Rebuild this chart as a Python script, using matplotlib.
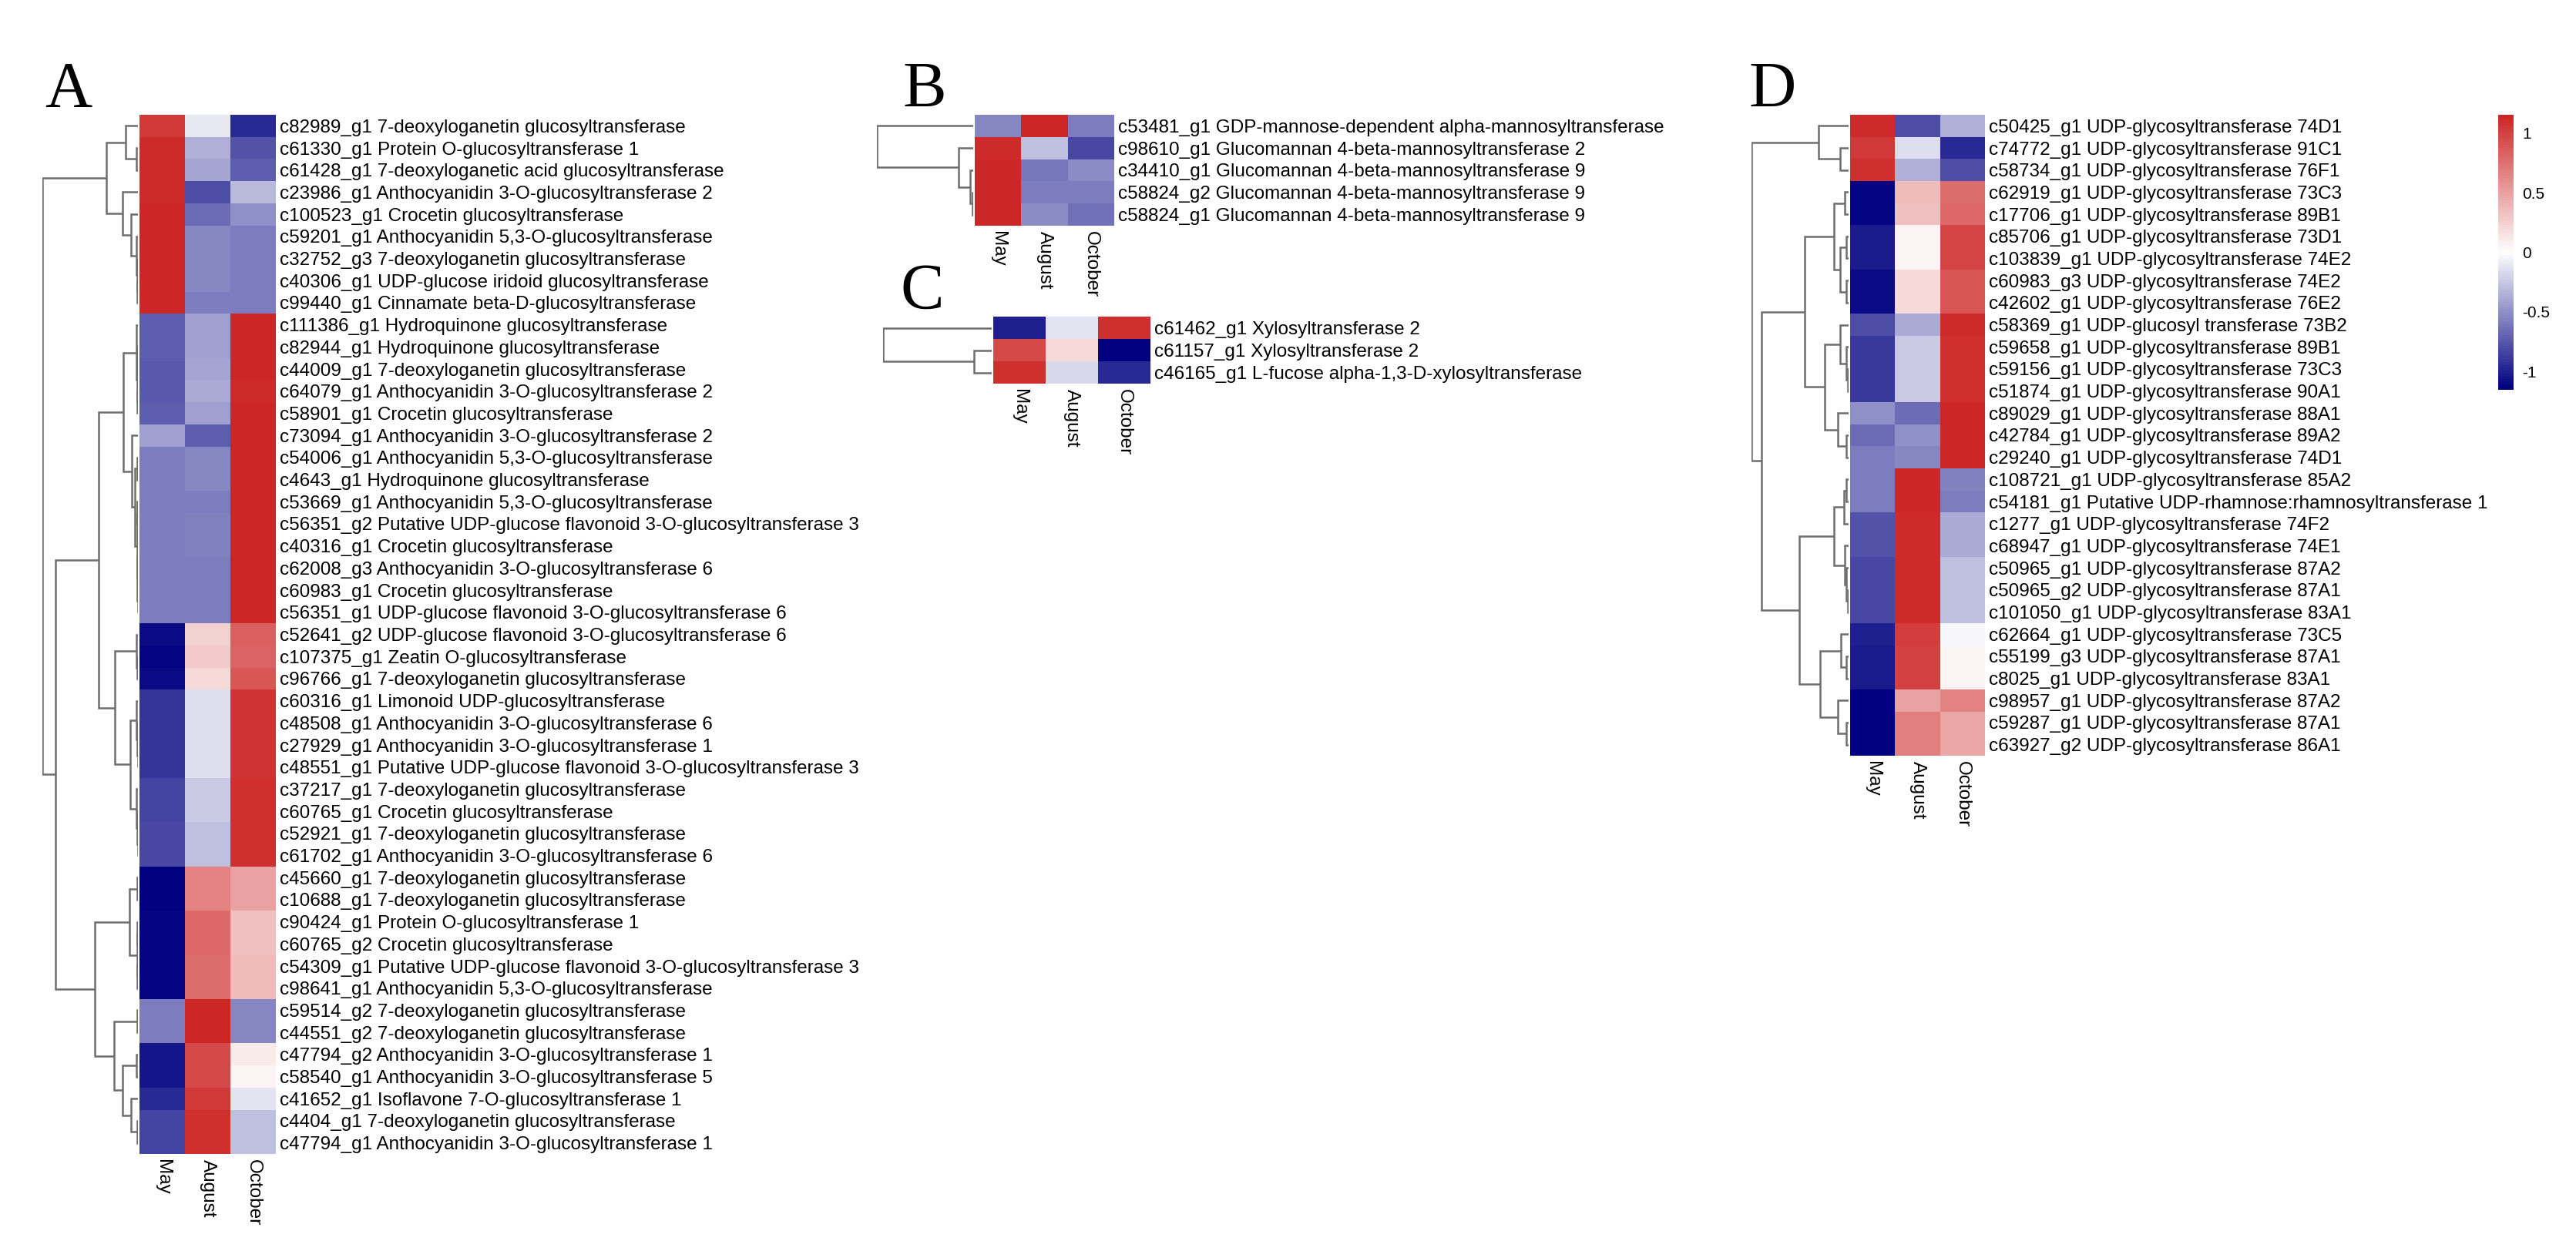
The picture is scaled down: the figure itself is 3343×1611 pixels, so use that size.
import matplotlib
matplotlib.use('Agg')
import matplotlib.pyplot as plt
from matplotlib.colors import LinearSegmentedColormap
import numpy as np

W, H = 3343, 1611

months = ['May', 'August', 'October']

a_genes = [
    'c82989_g1 7-deoxyloganetin glucosyltransferase',
    'c61330_g1 Protein O-glucosyltransferase 1',
    'c61428_g1 7-deoxyloganetic acid glucosyltransferase',
    'c23986_g1 Anthocyanidin 3-O-glucosyltransferase 2',
    'c100523_g1 Crocetin glucosyltransferase',
    'c59201_g1 Anthocyanidin 5,3-O-glucosyltransferase',
    'c32752_g3 7-deoxyloganetin glucosyltransferase',
    'c40306_g1 UDP-glucose iridoid glucosyltransferase',
    'c99440_g1 Cinnamate beta-D-glucosyltransferase',
    'c111386_g1 Hydroquinone glucosyltransferase',
    'c82944_g1 Hydroquinone glucosyltransferase',
    'c44009_g1 7-deoxyloganetin glucosyltransferase',
    'c64079_g1 Anthocyanidin 3-O-glucosyltransferase 2',
    'c58901_g1 Crocetin glucosyltransferase',
    'c73094_g1 Anthocyanidin 3-O-glucosyltransferase 2',
    'c54006_g1 Anthocyanidin 5,3-O-glucosyltransferase',
    'c4643_g1 Hydroquinone glucosyltransferase',
    'c53669_g1 Anthocyanidin 5,3-O-glucosyltransferase',
    'c56351_g2 Putative UDP-glucose flavonoid 3-O-glucosyltransferase 3',
    'c40316_g1 Crocetin glucosyltransferase',
    'c62008_g3 Anthocyanidin 3-O-glucosyltransferase 6',
    'c60983_g1 Crocetin glucosyltransferase',
    'c56351_g1 UDP-glucose flavonoid 3-O-glucosyltransferase 6',
    'c52641_g2 UDP-glucose flavonoid 3-O-glucosyltransferase 6',
    'c107375_g1 Zeatin O-glucosyltransferase',
    'c96766_g1 7-deoxyloganetin glucosyltransferase',
    'c60316_g1 Limonoid UDP-glucosyltransferase',
    'c48508_g1 Anthocyanidin 3-O-glucosyltransferase 6',
    'c27929_g1 Anthocyanidin 3-O-glucosyltransferase 1',
    'c48551_g1 Putative UDP-glucose flavonoid 3-O-glucosyltransferase 3',
    'c37217_g1 7-deoxyloganetin glucosyltransferase',
    'c60765_g1 Crocetin glucosyltransferase',
    'c52921_g1 7-deoxyloganetin glucosyltransferase',
    'c61702_g1 Anthocyanidin 3-O-glucosyltransferase 6',
    'c45660_g1 7-deoxyloganetin glucosyltransferase',
    'c10688_g1 7-deoxyloganetin glucosyltransferase',
    'c90424_g1 Protein O-glucosyltransferase 1',
    'c60765_g2 Crocetin glucosyltransferase',
    'c54309_g1 Putative UDP-glucose flavonoid 3-O-glucosyltransferase 3',
    'c98641_g1 Anthocyanidin 5,3-O-glucosyltransferase',
    'c59514_g2 7-deoxyloganetin glucosyltransferase',
    'c44551_g2 7-deoxyloganetin glucosyltransferase',
    'c47794_g2 Anthocyanidin 3-O-glucosyltransferase 1',
    'c58540_g1 Anthocyanidin 3-O-glucosyltransferase 5',
    'c41652_g1 Isoflavone 7-O-glucosyltransferase 1',
    'c4404_g1 7-deoxyloganetin glucosyltransferase',
    'c47794_g1 Anthocyanidin 3-O-glucosyltransferase 1',
]
a_values = [
    [1.05, -0.10, -0.95], [1.13, -0.35, -0.78], [1.13, -0.40, -0.73],
    [1.12, -0.80, -0.32], [1.15, -0.65, -0.50], [1.155, -0.55, -0.60],
    [1.155, -0.55, -0.60], [1.155, -0.55, -0.60], [1.155, -0.58, -0.58],
    [-0.72, -0.43, 1.15], [-0.72, -0.43, 1.15], [-0.74, -0.40, 1.14],
    [-0.76, -0.37, 1.13], [-0.72, -0.43, 1.15], [-0.42, -0.73, 1.15],
    [-0.60, -0.55, 1.155], [-0.60, -0.55, 1.155], [-0.58, -0.58, 1.155],
    [-0.60, -0.56, 1.155], [-0.60, -0.56, 1.155], [-0.58, -0.58, 1.155],
    [-0.58, -0.58, 1.155], [-0.58, -0.58, 1.155],
    [-1.10, 0.25, 0.85], [-1.12, 0.30, 0.82], [-1.10, 0.20, 0.90],
    [-0.92, -0.15, 1.07], [-0.92, -0.15, 1.07], [-0.92, -0.15, 1.07],
    [-0.92, -0.15, 1.07], [-0.85, -0.25, 1.10], [-0.85, -0.25, 1.10],
    [-0.82, -0.28, 1.10], [-0.82, -0.28, 1.10],
    [-1.155, 0.65, 0.50], [-1.155, 0.65, 0.50], [-1.13, 0.80, 0.33],
    [-1.13, 0.80, 0.33], [-1.13, 0.78, 0.35], [-1.13, 0.78, 0.35],
    [-0.60, 1.155, -0.55], [-0.60, 1.155, -0.55], [-1.05, 0.95, 0.10],
    [-1.05, 0.97, 0.06], [-0.97, 1.05, -0.12], [-0.85, 1.10, -0.28],
    [-0.85, 1.10, -0.28],
]
# trees: leaf = row index, node = (upper, lower, height relative to root)
a_tree = (
    ((0, (1, 2, 0.02), 0.13),
     (3, (4, (5, (6, (7, 8, 0.005), 0.01), 0.015), 0.07), 0.16), 0.33),
    ((((9, ((10, 11, 0.005), (12, 13, 0.005), 0.01), 0.02),
       (14, ((15, 16, 0.01), ((17, 18, 0.005),
                               ((19, 20, 0.003), (21, 22, 0.003), 0.006), 0.01), 0.03), 0.065), 0.15),
      ((23, (24, 25, 0.005), 0.02),
       ((26, (27, (28, 29, 0.003), 0.006), 0.015),
        (30, (31, (32, 33, 0.003), 0.006), 0.015), 0.08), 0.24), 0.41),
     (((34, 35, 0.005), ((36, 37, 0.005), (38, 39, 0.005), 0.01), 0.09),
      ((40, 41, 0.01), ((42, 43, 0.02), (44, (45, 46, 0.01), 0.07), 0.16), 0.25), 0.45), 0.86),
    1.0)

b_genes = [
    'c53481_g1 GDP-mannose-dependent alpha-mannosyltransferase',
    'c98610_g1 Glucomannan 4-beta-mannosyltransferase 2',
    'c34410_g1 Glucomannan 4-beta-mannosyltransferase 9',
    'c58824_g2 Glucomannan 4-beta-mannosyltransferase 9',
    'c58824_g1 Glucomannan 4-beta-mannosyltransferase 9',
]
b_values = [
    [-0.55, 1.155, -0.60], [1.12, -0.30, -0.82], [1.155, -0.62, -0.53],
    [1.155, -0.58, -0.58], [1.155, -0.53, -0.63],
]
b_tree = (0, (1, (2, (3, 4, 0.01), 0.03), 0.15), 1.0)

c_genes = [
    'c61462_g1 Xylosyltransferase 2',
    'c61157_g1 Xylosyltransferase 2',
    'c46165_g1 L-fucose alpha-1,3-D-xylosyltransferase',
]
c_values = [
    [-1.00, -0.12, 1.10], [0.95, 0.20, -1.15], [1.10, -0.17, -0.95],
]
c_tree = (0, (1, 2, 0.16), 1.0)

d_genes = [
    'c50425_g1 UDP-glycosyltransferase 74D1',
    'c74772_g1 UDP-glycosyltransferase 91C1',
    'c58734_g1 UDP-glycosyltransferase 76F1',
    'c62919_g1 UDP-glycosyltransferase 73C3',
    'c17706_g1 UDP-glycosyltransferase 89B1',
    'c85706_g1 UDP-glycosyltransferase 73D1',
    'c103839_g1 UDP-glycosyltransferase 74E2',
    'c60983_g3 UDP-glycosyltransferase 74E2',
    'c42602_g1 UDP-glycosyltransferase 76E2',
    'c58369_g1 UDP-glucosyl transferase 73B2',
    'c59658_g1 UDP-glycosyltransferase 89B1',
    'c59156_g1 UDP-glycosyltransferase 73C3',
    'c51874_g1 UDP-glycosyltransferase 90A1',
    'c89029_g1 UDP-glycosyltransferase 88A1',
    'c42784_g1 UDP-glycosyltransferase 89A2',
    'c29240_g1 UDP-glycosyltransferase 74D1',
    'c108721_g1 UDP-glycosyltransferase 85A2',
    'c54181_g1 Putative UDP-rhamnose:rhamnosyltransferase 1',
    'c1277_g1 UDP-glycosyltransferase 74F2',
    'c68947_g1 UDP-glycosyltransferase 74E1',
    'c50965_g1 UDP-glycosyltransferase 87A2',
    'c50965_g2 UDP-glycosyltransferase 87A1',
    'c101050_g1 UDP-glycosyltransferase 83A1',
    'c62664_g1 UDP-glycosyltransferase 73C5',
    'c55199_g3 UDP-glycosyltransferase 87A1',
    'c8025_g1 UDP-glycosyltransferase 83A1',
    'c98957_g1 UDP-glycosyltransferase 87A2',
    'c59287_g1 UDP-glycosyltransferase 87A1',
    'c63927_g2 UDP-glycosyltransferase 86A1',
]
d_values = [
    [1.13, -0.80, -0.36], [1.05, -0.15, -0.95], [1.10, -0.35, -0.80],
    [-1.12, 0.35, 0.77], [-1.12, 0.33, 0.79], [-1.03, 0.05, 0.98],
    [-1.03, 0.05, 0.98], [-1.10, 0.20, 0.90], [-1.10, 0.20, 0.90],
    [-0.80, -0.38, 1.13], [-0.88, -0.24, 1.10], [-0.88, -0.24, 1.10],
    [-0.88, -0.24, 1.10], [-0.50, -0.65, 1.155], [-0.65, -0.50, 1.155],
    [-0.60, -0.55, 1.155], [-0.60, 1.155, -0.56], [-0.58, 1.155, -0.58],
    [-0.78, 1.13, -0.37], [-0.78, 1.13, -0.37], [-0.82, 1.12, -0.30],
    [-0.82, 1.12, -0.30], [-0.82, 1.12, -0.30], [-1.00, 1.03, -0.03],
    [-1.03, 1.00, 0.05], [-1.03, 1.00, 0.05], [-1.155, 0.50, 0.65],
    [-1.155, 0.67, 0.48], [-1.155, 0.67, 0.48],
]
d_tree = (
    (0, (1, 2, 0.09), 0.31),
    ((((3, 4, 0.04), ((5, 6, 0.02), (7, 8, 0.02), 0.09), 0.15),
      ((9, (10, (11, 12, 0.01), 0.02), 0.09), (13, (14, 15, 0.02), 0.11), 0.25), 0.45),
     ((((16, 17, 0.02), 18, 0.05), (19, (20, (21, 22, 0.01), 0.02), 0.04), 0.15),
      ((23, (24, 25, 0.02), 0.08), (26, (27, 28, 0.02), 0.11), 0.29), 0.51), 0.90),
    1.0)

cbar_ticks = [-1, -0.5, 0, 0.5, 1]
cbar_labels = ['-1', '-0.5', '0', '0.5', '1']

cmap = LinearSegmentedColormap.from_list('navy_fire', ['#000080', '#ffffff', '#cd2626'], N=100)
VMIN, VMAX = -1.155, 1.155
TREE_COLOR = '#6e6e6e'
LABEL_FONT = 'Liberation Sans'
LABEL_SIZE = 17.5

fig = plt.figure(figsize=(W / 100, H / 100), dpi=100)


def px_axes(x0, y0, x1, y1):
    return fig.add_axes([x0 / W, 1 - y1 / H, (x1 - x0) / W, (y1 - y0) / H])


def draw_tree(ax, node):
    if isinstance(node, int):
        return node + 0.5, 0.0
    upper, lower, h = node
    y1, h1 = draw_tree(ax, upper)
    y2, h2 = draw_tree(ax, lower)
    ax.plot([h1, h, h, h2], [y1, y1, y2, y2], color=TREE_COLOR, lw=1.8,
            solid_capstyle='butt', solid_joinstyle='miter')
    return (y1 + y2) / 2, h


def heat_panel(box, tree_left, genes, values, tree, letter, letter_pos):
    x0, y0, x1, y1 = box
    n = len(genes)
    ax = px_axes(x0, y0, x1, y1)
    mesh = ax.pcolormesh(np.array(values), cmap=cmap, vmin=VMIN, vmax=VMAX)
    ax.set_xlim(0, 3)
    ax.set_ylim(n, 0)
    ax.yaxis.tick_right()
    ax.set_yticks(np.arange(n) + 0.5, genes, fontsize=LABEL_SIZE, family=LABEL_FONT)
    ax.set_xticks(np.arange(3) + 0.5, months, rotation=270, fontsize=LABEL_SIZE, family=LABEL_FONT)
    ax.tick_params(axis='y', length=0, pad=3.5)
    ax.tick_params(axis='x', length=0, pad=5)
    for s in ax.spines.values():
        s.set_visible(False)

    dax = px_axes(tree_left, y0, x0 - 2, y1)
    draw_tree(dax, tree)
    dax.set_xlim(1.0, 0)
    dax.set_ylim(n, 0)
    dax.axis('off')

    fig.text(letter_pos[0] / W, 1 - letter_pos[1] / H, letter, fontsize=61,
             family='Liberation Serif', va='baseline', ha='left')
    return mesh


mesh = heat_panel((181, 149, 358, 1498), 55, a_genes, a_values, a_tree, 'A', (58, 139))
heat_panel((1265, 149, 1446, 293), 1138, b_genes, b_values, b_tree, 'B', (1171, 139))
heat_panel((1289, 411, 1493, 498), 1146, c_genes, c_values, c_tree, 'C', (1169, 401))
heat_panel((2401, 149, 2576, 981), 2273, d_genes, d_values, d_tree, 'D', (2269, 139))

cax = px_axes(3242, 149, 3262, 506)
cb = fig.colorbar(mesh, cax=cax, ticks=cbar_ticks)
cb.outline.set_visible(False)
cb.ax.set_yticklabels(cbar_labels, fontsize=15, family=LABEL_FONT)
cb.ax.tick_params(length=0, pad=8)

fig.savefig('out.png', dpi=100, facecolor='white')
